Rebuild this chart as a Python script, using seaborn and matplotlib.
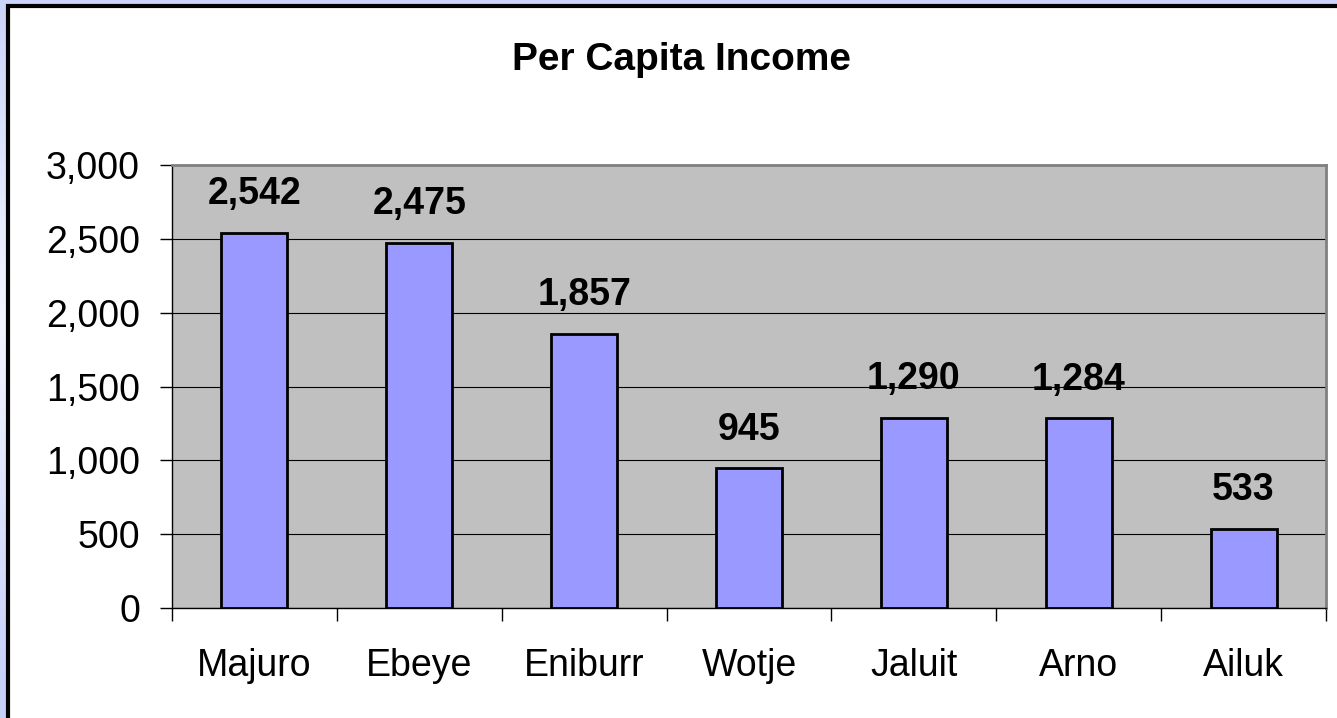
import numpy as np
import pandas as pd
import matplotlib
matplotlib.use("Agg")
import matplotlib.pyplot as plt
from matplotlib.patches import Rectangle
from matplotlib.ticker import FuncFormatter, FixedLocator
import seaborn as sns

# Data
places = ["Majuro", "Ebeye", "Eniburr", "Wotje", "Jaluit", "Arno", "Ailuk"]
income = [2542, 2475, 1857, 945, 1290, 1284, 533]
y_ticks = [0, 500, 1000, 1500, 2000, 2500, 3000]

df = pd.DataFrame({"Place": places, "Income": income})

sns.set_theme(style="white")
plt.rcParams["font.family"] = ["Liberation Sans", "DejaVu Sans"]
plt.rcParams["text.color"] = "black"
plt.rcParams["xtick.color"] = "black"
plt.rcParams["ytick.color"] = "black"

W, H = 1337, 718
fig = plt.figure(figsize=(W / 100, H / 100), dpi=100)

# light blue gradient slide background
bg = fig.add_axes([0, 0, 1, 1], zorder=-10)
grad = np.linspace(0, 1, 256)
shade = np.clip(1 - np.abs(grad - 0.45) * 2, 0, 1)[:, None]
top = np.array([0.78, 0.82, 0.98])
mid = np.array([0.95, 0.96, 1.0])
img = top[None, None, :] * (1 - shade[..., None]) + mid[None, None, :] * shade[..., None]
bg.imshow(img, aspect="auto", extent=[0, 1, 0, 1])
bg.set_axis_off()

# white chart area with black frame
fig.patches.append(Rectangle((8 / W, -0.05), 1.1, (H - 6) / H + 0.05,
                             transform=fig.transFigure, facecolor="white",
                             edgecolor="black", linewidth=3, zorder=-5))

ax = fig.add_axes([172 / W, (H - 608) / H, 1154 / W, 443 / H])
ax.set_facecolor("#C0C0C0")

sns.barplot(data=df, x="Place", y="Income", color="#9999FF", saturation=1,
            width=0.4, edgecolor="black", linewidth=2, ax=ax, zorder=3)

ax.set_ylim(0, 3000)
ax.set_xlim(-0.5, len(places) - 0.5)
ax.set_yticks(y_ticks)
ax.yaxis.set_major_formatter(FuncFormatter(lambda v, p: f"{int(v):,}"))
ax.grid(axis="y", color="black", linewidth=0.8, zorder=1)
ax.set_axisbelow(True)

for side in ["top", "right"]:
    ax.spines[side].set_color("#808080")
    ax.spines[side].set_linewidth(2)
for side in ["left", "bottom"]:
    ax.spines[side].set_color("black")
    ax.spines[side].set_linewidth(1)

ax.tick_params(axis="y", which="major", left=True, length=9, width=1,
               color="black", labelsize=27, pad=14, labelcolor="black")
ax.tick_params(axis="x", which="major", bottom=True, length=0,
               labelsize=27, pad=29, labelcolor="black")
ax.xaxis.set_minor_locator(FixedLocator(np.arange(-0.5, len(places), 1.0)))
ax.tick_params(axis="x", which="minor", bottom=True, length=9, width=1,
               color="black")

ax.set_xlabel("")
ax.set_ylabel("")

for i, v in enumerate(income):
    ax.annotate(f"{v:,}", (i, v), xytext=(0, 15), textcoords="offset points",
                ha="center", va="bottom", fontsize=27, fontweight="bold",
                color="black")

fig.text(682 / W, 1 - 70 / H, "Per Capita Income", ha="center",
         va="baseline", fontsize=28, fontweight="bold", color="black")

fig.savefig("out.png", dpi=100)
plt.close(fig)
